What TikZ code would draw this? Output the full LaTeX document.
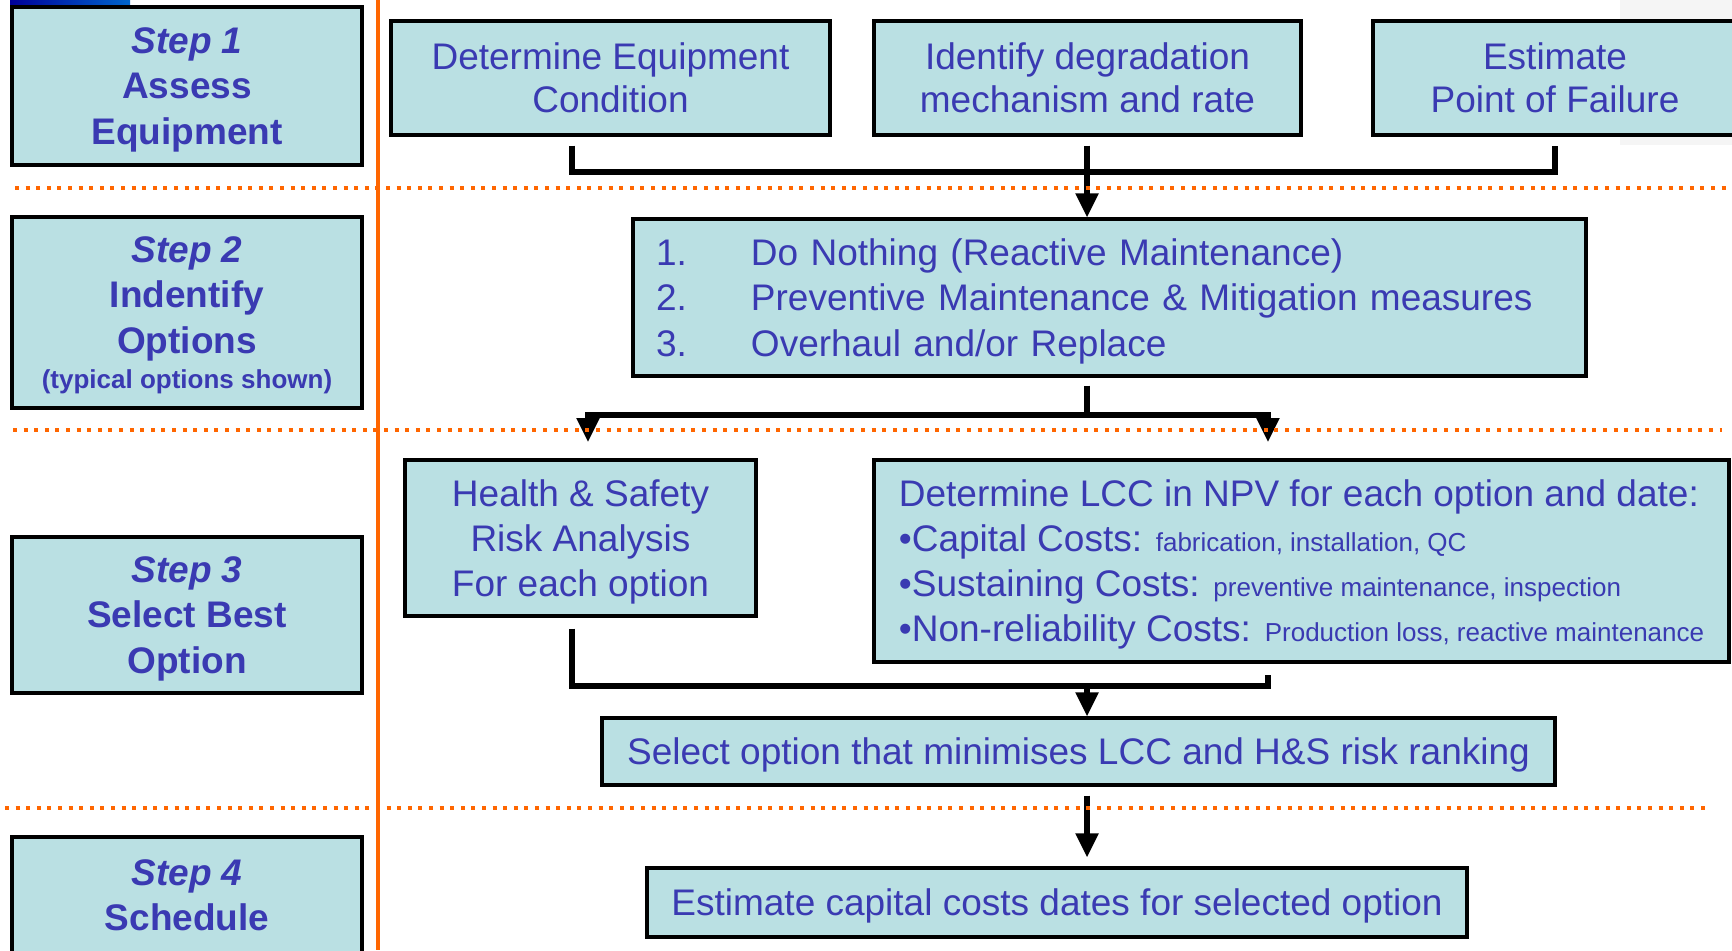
\documentclass[tikz,border=0pt]{standalone}
\usepackage{fontspec}
\setmainfont{Liberation Sans}
\usetikzlibrary{arrows.meta,calc}

\definecolor{boxfill}{RGB}{186,224,227}
\definecolor{boxtext}{RGB}{58,58,178}
\definecolor{rulecol}{RGB}{255,102,0}

\begin{document}
\begin{tikzpicture}[
		x=0.5pt, y=-0.5pt,      % one unit = half a point, y runs downwards
		box/.style={draw=black, line width=1.6pt, fill=boxfill, text=boxtext,
			inner sep=0pt, text depth=0pt, align=center, font=\fontsize{18.5}{21.5}\selectfont},
		stepbox/.style={box, minimum width=175pt,
			font=\bfseries\fontsize{18.5}{22.6}\selectfont},
		link/.style={line width=2.6pt},
		arrow/.style={link, -{Triangle[length=12pt,width=11pt]}},
		divider/.style={draw=rulecol, line width=2pt, dash pattern=on 2pt off 3.3pt},
		]
		
		\useasboundingbox (0,0) rectangle (1732,950);
		
		% slide background bits
		\fill[left color=blue!60!black, right color=blue!50!cyan!80!black] (10,0) rectangle (130,145);
		\fill[gray!8] (1620,0) rectangle (1732,145);
		
		% step column
		\node[stepbox, minimum height=79pt]   (s1) at (187,86)    {\textit{Step 1}\\Assess\\Equipment};
		\node[stepbox, minimum height=95.5pt] (s2) at (187,312.5) {\textit{Step 2}\\Indentify\\Options\\[-5pt]{\fontsize{13}{16}\selectfont(typical options shown)}};
		\node[stepbox, minimum height=78pt]   (s3) at (187,615)   {\textit{Step 3}\\Select Best\\Option};
		\node[stepbox, minimum height=58pt]   (s4) at (187,895)   {\textit{Step 4}\\Schedule};
		
		% step 1
		\node[box, minimum width=219.5pt, minimum height=57pt] (c1) at (610.5,78) {Determine Equipment\\Condition};
		\node[box, minimum width=213.5pt, minimum height=57pt] (c2) at (1087.5,78) {Identify degradation\\mechanism and rate};
		\node[box, minimum width=182pt, minimum height=57pt]   (c3) at (1555,78) {Estimate\\Point of Failure};
		
		% step 2
		\node[box, align=left, text width=453.5pt, text depth=45.2pt, inner xsep=11.5pt, minimum height=78.5pt,
			font=\fontsize{18.5}{22.6}\selectfont] (opt) at (1109.5,297.5)
			{\makebox[47.5pt][l]{1.}Do Nothing (Reactive Maintenance)\\
			 \makebox[47.5pt][l]{2.}Preventive Maintenance \& Mitigation measures\\
			 \makebox[47.5pt][l]{3.}Overhaul and/or Replace};
		
		% step 3
		\node[box, minimum width=175.5pt, minimum height=78pt,
			font=\fontsize{18.5}{22.4}\selectfont] (hs) at (580.5,538) {Health \& Safety\\Risk Analysis\\For each option};
		\node[box, align=left, minimum width=427.5pt, minimum height=101pt,
			font=\fontsize{18.5}{22.5}\selectfont] (lcc) at (1301.5,561)
			{Determine LCC in NPV for each option and date:\\
			 •Capital Costs: {\fontsize{13}{13}\selectfont fabrication, installation, QC}\\
			 •Sustaining Costs: {\fontsize{13}{13}\selectfont preventive maintenance, inspection}\\
			 •Non-reliability Costs: {\fontsize{13}{13}\selectfont Production loss, reactive maintenance}};
		\node[box, minimum width=476.5pt, minimum height=33.5pt] (sel) at (1078.5,751.5) {Select option that minimises LCC and H\&S risk ranking};
		
		% step 4
		\node[box, minimum width=410pt, minimum height=34.5pt] (est) at (1057,902.5) {Estimate capital costs dates for selected option};
		
		% junctions
		\coordinate (j1) at (572,172);
		\coordinate (j3) at (1555,172);
		\coordinate (j4) at (1087,415);
		\coordinate (a1) at (588,442);
		\coordinate (a2) at (1268,442);
		\coordinate (j5) at (1087,686);
		
		\draw[link] ($(c1.south -| j1)+(0,9)$) |- (j3) -- ($(c3.south -| j3)+(0,9)$);
		\draw[arrow] ($(c2.south -| j4)+(0,9)$) -- (opt.north -| j4);
		
		\draw[link] ($(opt.south -| j4)+(0,8)$) -- (j4);
		\draw[arrow] (j4) -| (a1);
		\draw[arrow] (j4) -| (a2);
		
		\draw[link] ($(hs.south -| j1)+(0,11)$) |- (j5) -| ($(lcc.south -| a2)+(0,11)$);
		\draw[arrow] (j5) -- (sel.north -| j5);
		\draw[arrow] ($(sel.south -| j5)+(0,9)$) -- ($(est.north -| j5)+(0,-9)$);
		
		% dividers
		\draw[divider] (15,188) -- (1732,188);
		\draw[divider] (13,430) -- (1722,430);
		\draw[divider] (5,808) -- (1707,808);
		\draw[rulecol, line width=2.2pt] (378,0) -- (378,950);
		
	\end{tikzpicture}
\end{document}
